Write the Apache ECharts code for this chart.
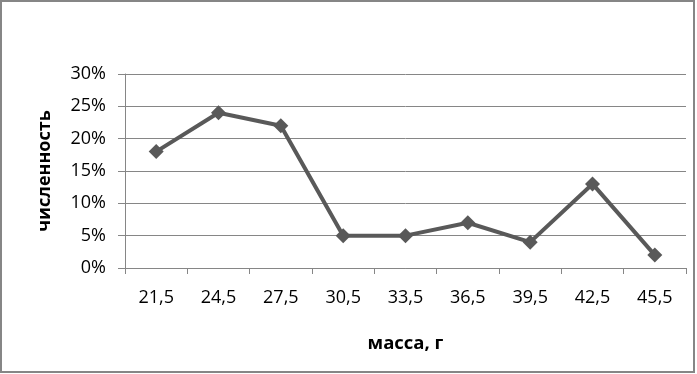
<!DOCTYPE html>
<html><head><meta charset="utf-8">
<script src="https://cdn.jsdelivr.net/npm/echarts@6/dist/echarts.min.js"></script>
<style>html,body{margin:0;padding:0;background:#fff}#c{width:697px;height:374px}</style>
</head><body><div id="c"></div>
<script>
const categories = ['21,5','24,5','27,5','30,5','33,5','36,5','39,5','42,5','45,5'];
const values = [0.18, 0.24, 0.22, 0.05, 0.05, 0.07, 0.04, 0.13, 0.02];
const xTitle = 'масса, г';
const yTitle = 'численность';
const FONT = '"Open Sans", "Liberation Sans", sans-serif';
const chart = echarts.init(document.getElementById('c'), null, {renderer:'canvas'});
chart.setOption({
  animation:false,
  backgroundColor:'#fff',
  graphic:[{type:'rect', shape:{x:1,y:1,width:693,height:371}, style:{fill:'none', stroke:'#868686', lineWidth:2}}],
  grid:{left:125, right:11, top:74, bottom:106},
  xAxis:{type:'category', data:categories, boundaryGap:true,
    name:xTitle, nameLocation:'middle', nameGap:66,
    nameTextStyle:{fontFamily:FONT, fontSize:18.5, fontWeight:'bold', color:'#000'},
    axisLine:{lineStyle:{color:'#868686', width:1}},
    axisTick:{show:true, length:6, alignWithLabel:false, lineStyle:{color:'#868686'}},
    axisLabel:{fontFamily:FONT, fontSize:18, color:'#000', margin:21}},
  yAxis:{type:'value', min:0, max:0.3, interval:0.05,
    name:yTitle, nameLocation:'middle', nameGap:71, nameRotate:90,
    nameTextStyle:{fontFamily:FONT, fontSize:18, fontWeight:'bold', color:'#000'},
    axisLine:{show:true, lineStyle:{color:'#868686', width:1}},
    axisTick:{show:true, length:7, lineStyle:{color:'#868686'}},
    splitLine:{lineStyle:{color:'#868686', width:1}},
    axisLabel:{fontFamily:FONT, fontSize:18, color:'#000', margin:19,
      formatter:v=>Math.round(v*100)+'%'}},
  series:[{type:'line', data:values, symbol:'diamond', symbolSize:15,
    lineStyle:{color:'#595959', width:4}, itemStyle:{color:'#595959'}}]
});
</script></body></html>
